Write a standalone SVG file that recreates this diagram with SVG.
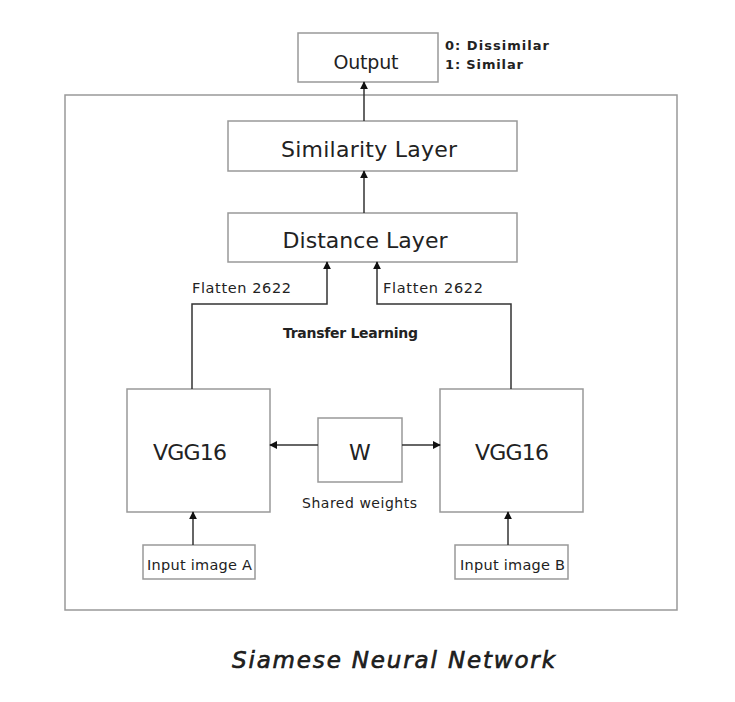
<svg xmlns="http://www.w3.org/2000/svg" width="735" height="702" viewBox="0 0 735 702">
<defs>
<marker id="ah" viewBox="0 0 10 10" refX="9" refY="5" markerWidth="8" markerHeight="8" markerUnits="userSpaceOnUse" orient="auto">
<path d="M0,0 L10,5 L0,10 z" fill="#111"/>
</marker>
<style>
.box{fill:#fff;stroke:#999;stroke-width:1.5}
.frame{fill:none;stroke:#999;stroke-width:1.5}
.t{font-family:"DejaVu Sans","Liberation Sans",sans-serif;fill:#222;text-anchor:middle}
.s{text-anchor:start}
.c{fill:none;stroke:#333;stroke-width:1.5}
</style>
</defs>
<rect x="0" y="0" width="735" height="702" fill="#fff"/>
<rect class="frame" x="65" y="95" width="612" height="515"/>
<g id="output"><rect class="box" x="298" y="33" width="140" height="49"/><text class="t" x="366" y="69" font-size="19" textLength="65">Output</text></g>
<g id="legend"><text class="t s" x="445" y="50" font-size="13" font-weight="bold" textLength="104">0: Dissimilar</text><text class="t s" x="445" y="69" font-size="13" font-weight="bold" textLength="78">1: Similar</text></g>
<g id="similarity"><rect class="box" x="228" y="121" width="289" height="50"/><text class="t" x="369" y="157" font-size="22" textLength="176">Similarity Layer</text></g>
<g id="distance"><rect class="box" x="228" y="213" width="289" height="49"/><text class="t" x="365" y="248" font-size="22" textLength="165">Distance Layer</text></g>
<g id="vggA"><rect class="box" x="127" y="389" width="143" height="123"/><text class="t" x="190" y="460" font-size="22" textLength="74">VGG16</text></g>
<g id="vggB"><rect class="box" x="440" y="389" width="143" height="123"/><text class="t" x="512" y="460" font-size="22" textLength="74">VGG16</text></g>
<g id="w"><rect class="box" x="318" y="418" width="84" height="64"/><text class="t" x="360" y="460" font-size="22">W</text></g>
<g id="inputA"><rect class="box" x="143" y="545" width="112" height="34"/><text class="t" x="199.5" y="570" font-size="14.5" textLength="105">Input image A</text></g>
<g id="inputB"><rect class="box" x="455" y="545" width="113" height="34"/><text class="t" x="512.5" y="570" font-size="14.5" textLength="105">Input image B</text></g>
<g id="labels">
<text class="t s" x="192" y="293" font-size="14.5" textLength="99">Flatten 2622</text>
<text class="t s" x="383" y="293" font-size="14.5" textLength="100">Flatten 2622</text>
<text class="t" x="350.5" y="338" font-size="14" font-weight="bold" textLength="135">Transfer Learning</text>
<text class="t" x="359.5" y="508" font-size="14" textLength="115">Shared weights</text>
</g>
<g id="connectors">
<path class="c" d="M364,121 V82" marker-end="url(#ah)"/>
<path class="c" d="M364,213 V171" marker-end="url(#ah)"/>
<path class="c" d="M192,389 V304 H327 V262" marker-end="url(#ah)"/>
<path class="c" d="M511,389 V304 H377 V262" marker-end="url(#ah)"/>
<path class="c" d="M318,445 H270" marker-end="url(#ah)"/>
<path class="c" d="M402,445 H440" marker-end="url(#ah)"/>
<path class="c" d="M193,545 V512" marker-end="url(#ah)"/>
<path class="c" d="M508,545 V512" marker-end="url(#ah)"/>
</g>
<text class="t" x="393.5" y="668" font-size="23" font-style="italic" fill="#111" stroke="#111" stroke-width="0.6" textLength="323">Siamese Neural Network</text>
</svg>
